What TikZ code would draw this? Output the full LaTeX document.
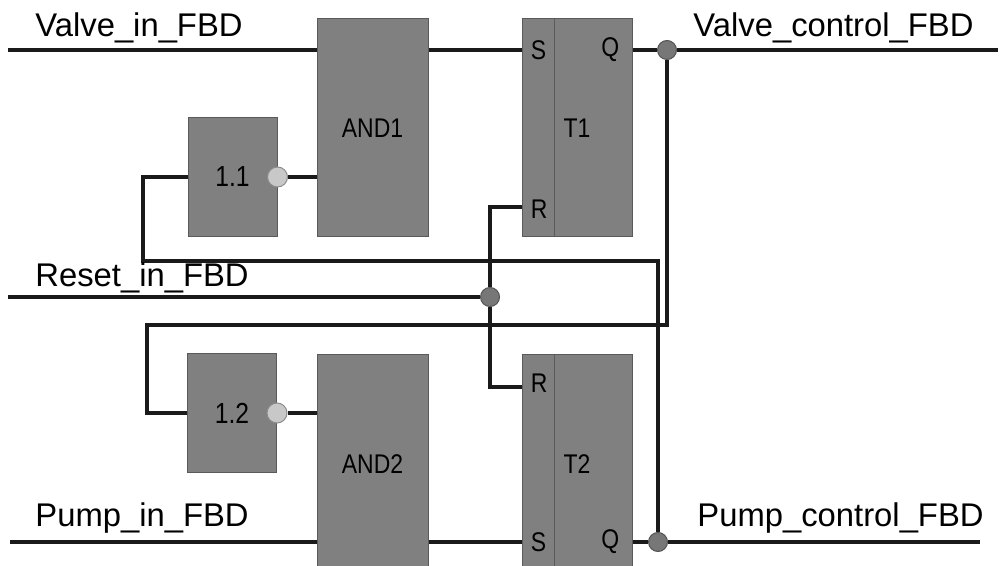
\documentclass[tikz,border=0pt]{standalone}
\usepackage{fontspec}
\setmainfont{Liberation Sans}
\newfontfamily\blockfont[FakeStretch=0.85]{Liberation Sans}
\usepackage{tikz}
\usetikzlibrary{calc}
\usetikzlibrary{positioning}

\definecolor{blockgray}{HTML}{808080}
\definecolor{blockedge}{HTML}{5A5A5A}
\definecolor{negfill}{HTML}{C8C8C8}
\definecolor{negedge}{HTML}{8C8C8C}
\definecolor{dotfill}{HTML}{777777}
\definecolor{wirecol}{HTML}{1A1A1A}

\tikzset{
    block/.style={rectangle, draw=blockedge, fill=blockgray, line width=0.5pt, inner sep=0pt,
        font=\blockfont\fontsize{13.5}{15}\selectfont},
    andblock/.style={block, minimum width=55.5pt, minimum height=109pt},
    notblock/.style={block, minimum width=44.5pt, minimum height=59.5pt,
        font=\blockfont\fontsize{14.5}{16}\selectfont},
    rsblock/.style={block, minimum width=55pt, minimum height=109pt},
    port/.style={inner sep=0pt, font=\blockfont\fontsize{13.5}{15}\selectfont},
    neg/.style={circle, draw=negedge, fill=negfill, line width=0.5pt, minimum size=10pt, inner sep=0pt},
    dot/.style={circle, draw=dotfill!70!black, fill=dotfill, line width=0.5pt, minimum size=9.5pt, inner sep=0pt},
    wire/.style={draw=wirecol, line width=1.6pt},
    divider/.style={draw=blockedge, line width=0.5pt},
    signal/.style={anchor=base west, inner sep=0pt, font=\fontsize{16.4}{19}\selectfont}
}

\begin{document}
\begin{tikzpicture}[x=0.5pt, y=-0.5pt]
    \useasboundingbox (0,0) rectangle (1000,566);
    \fill [white] (0,0) rectangle (1000,566);

    % blocks
    \node [andblock] (AND1) at (372.5,128) {AND1};
    \node [andblock] (AND2) at (372.5,464) {AND2};
    \node [notblock] (N11) at (232.5,177) {1.1};
    \node [notblock] (N12) at (232,413) {1.2};
    \node [rsblock] (T1) at (577,128) {T1};
    \node [rsblock] (T2) at (577,464) {T2};
    \draw [divider] ($(T1.north west)+(33,0)$) -- ($(T1.south west)+(33,0)$);
    \draw [divider] ($(T2.north west)+(33,0)$) -- ($(T2.south west)+(33,0)$);
    \node [neg] (inv1) at (N11.east) {};
    \node [neg] (inv2) at (N12.east) {};

    % junctions and free ends
    \node [dot] (J1) at (667,50) {};
    \node [dot] (J2) at (658,542) {};
    \node [dot] (JR) at (490,297) {};
    \coordinate (vin) at (8,50);
    \coordinate (vout) at (998,50);
    \coordinate (rin) at (8,297);
    \coordinate (pin) at (10,542);
    \coordinate (pout) at (980,542);

    % port labels
    \node [port, anchor=west] at ($(T1.west |- vin)+(9,0)$) {S};
    \node [port, anchor=east] at ($(T1.east |- vin)+(-13,0)$) {Q};
    \node [port, anchor=west] at ($(T1.west |- 0,209)+(9,0)$) {R};
    \node [port, anchor=west] at ($(T2.west |- 0,383)+(9,0)$) {R};
    \node [port, anchor=west] at ($(T2.west |- pin)+(9,0)$) {S};
    \node [port, anchor=east] at ($(T2.east |- pin)+(-13,0)$) {Q};

    % wires
    \draw [wire] (vin) -- (AND1.west |- vin);
    \draw [wire] (AND1.east |- vin) -- (T1.west |- vin);
    \draw [wire] (T1.east |- vin) -- (J1) -- (vout);
    \draw [wire] (pin) -- (AND2.west |- pin);
    \draw [wire] (AND2.east |- pin) -- (T2.west |- pin);
    \draw [wire] (T2.east |- pin) -- (J2) -- (pout);
    \draw [wire] (inv1) -- (AND1.west |- inv1);
    \draw [wire] (inv2) -- (AND2.west |- inv2);
    \draw [wire] (rin) -- (JR);
    \draw [wire] (T1.west |- 0,207) -| (JR) |- (T2.west |- 0,387);
    \draw [wire] (J2) |- (143,261) |- (N11.west);
    \draw [wire] (J1) |- (147,325) |- (N12.west);

    % signal names
    \node [signal] at (35,37) {Valve\_in\_FBD};
    \node [signal] at (35,287) {Reset\_in\_FBD};
    \node [signal] at (35,526) {Pump\_in\_FBD};
    \node [signal] at (693,37) {Valve\_control\_FBD};
    \node [signal] at (697,526) {Pump\_control\_FBD};
\end{tikzpicture}
\end{document}
